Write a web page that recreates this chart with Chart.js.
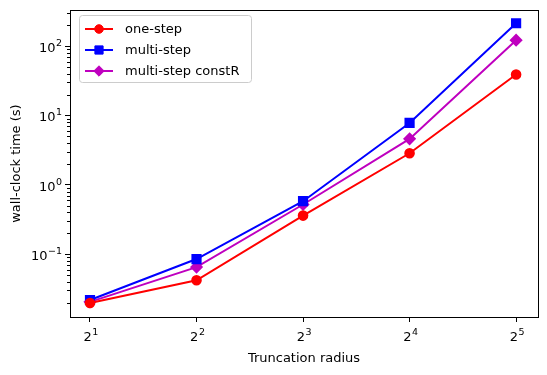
<!DOCTYPE html>
<html>
<head>
<meta charset="utf-8">
<script src="https://cdn.jsdelivr.net/npm/chart.js@4"></script>
<style>
  html, body { margin: 0; padding: 0; background: #fff; }
</style>
</head>
<body>
<canvas id="chart" width="547" height="375"></canvas>
<script>
// values
const radius = [2, 4, 8, 16, 32];
const oneStep = [0.0197, 0.042, 0.36, 2.85, 39];
const multiStep = [0.0218, 0.085, 0.58, 7.8, 214];
const multiStepConstR = [0.0205, 0.065, 0.52, 4.6, 122];
// tick labels as base + exponent
const xTickExp = ['1', '2', '3', '4', '5'];
const yMajor = [0.1, 1, 10, 100];
const yTickExp = ['\u22121', '0', '1', '2'];

const FONT = 'DejaVu Sans';
const Y_MIN = 0.0124, Y_MAX = 330;

function yTickList() {
    const list = yMajor.map(v => ({ value: v, major: true }));
    for (let k = -2; k <= 2; k++) {
        for (let m = 2; m <= 9; m++) {
            const v = m * Math.pow(10, k);
            if (v >= Y_MIN && v <= Y_MAX) list.push({ value: v, major: false });
        }
    }
    return list.sort((a, b) => a.value - b.value);
}

// base with a raised exponent, like matplotlib mathtext
function drawPower(ctx, base, exp, x, y, align) {
    ctx.font = '13px "' + FONT + '"';
    const wb = ctx.measureText(base).width;
    ctx.font = '9.5px "' + FONT + '"';
    const we = ctx.measureText(exp).width;
    const total = wb + we + 0.5;
    let x0 = align === 'right' ? x - total : x - total / 2;
    ctx.textAlign = 'left';
    ctx.textBaseline = 'alphabetic';
    ctx.font = '13px "' + FONT + '"';
    ctx.fillText(base, x0, y);
    ctx.font = '9.5px "' + FONT + '"';
    ctx.fillText(exp, x0 + wb + 0.5, y - 6);
}

// matplotlib-like frame, minor ticks, tick labels and legend inside the plot
const mplExtras = {
    id: 'mplExtras',
    afterDraw(chart) {
        const ctx = chart.ctx;
        const a = chart.chartArea;
        const x = chart.scales.x;
        const y = chart.scales.y;
        ctx.save();
        ctx.strokeStyle = '#000';
        ctx.lineWidth = 1;
        ctx.strokeRect(Math.round(a.left) + 0.5, Math.round(a.top) + 0.5,
            Math.round(a.right - a.left), Math.round(a.bottom - a.top));

        ctx.beginPath();
        y.ticks.forEach(t => {
            if (t.major) return;
            const py = Math.round(y.getPixelForValue(t.value)) + 0.5;
            ctx.moveTo(a.left, py);
            ctx.lineTo(a.left - 3, py);
        });
        ctx.stroke();

        ctx.fillStyle = '#000';
        radius.forEach((r, i) => {
            drawPower(ctx, '2', xTickExp[i], x.getPixelForValue(r) + 1, a.bottom + 24);
        });
        yMajor.forEach((v, i) => {
            drawPower(ctx, '10', yTickExp[i], a.left - 8, y.getPixelForValue(v) + 6, 'right');
        });

        // legend
        const bx = 79.5, by = 15.5, bw = 172, bh = 67;
        ctx.fillStyle = 'rgba(255,255,255,0.8)';
        ctx.strokeStyle = '#cccccc';
        ctx.beginPath();
        ctx.roundRect(bx, by, bw, bh, 3);
        ctx.fill();
        ctx.stroke();

        ctx.font = '13px "' + FONT + '"';
        ctx.textBaseline = 'middle';
        ctx.textAlign = 'left';
        chart.data.datasets.forEach((ds, i) => {
            const ry = 29 + i * 21;
            ctx.strokeStyle = ds.borderColor;
            ctx.lineWidth = 2;
            ctx.beginPath();
            ctx.moveTo(85, ry);
            ctx.lineTo(113, ry);
            ctx.stroke();
            ctx.fillStyle = ds.pointBackgroundColor;
            ctx.strokeStyle = ds.pointBorderColor;
            ctx.lineWidth = 1;
            Chart.helpers.drawPoint(ctx, { pointStyle: ds.pointStyle, radius: ds.pointRadius, borderWidth: 1 }, 99, ry);
            ctx.fillStyle = '#000';
            ctx.fillText(ds.label, 125, ry + 1);
        });
        ctx.restore();
    }
};

const chart = new Chart(document.querySelector('#chart'), {
    type: 'line',
    data: {
        datasets: [
            {
                label: 'one-step',
                data: radius.map((r, i) => ({ x: r, y: oneStep[i] })),
                borderColor: '#ff0000',
                borderWidth: 2,
                pointStyle: 'circle',
                pointRadius: 4.3,
                pointBackgroundColor: '#ff0000',
                pointBorderColor: '#ff0000',
            },
            {
                label: 'multi-step',
                data: radius.map((r, i) => ({ x: r, y: multiStep[i] })),
                borderColor: '#0000ff',
                borderWidth: 2,
                pointStyle: 'rect',
                pointRadius: 5.8,
                pointBackgroundColor: '#0000ff',
                pointBorderColor: '#0000ff',
            },
            {
                label: 'multi-step constR',
                data: radius.map((r, i) => ({ x: r, y: multiStepConstR[i] })),
                borderColor: '#bf00bf',
                borderWidth: 2,
                pointStyle: 'rectRot',
                pointRadius: 5.2,
                pointBackgroundColor: '#bf00bf',
                pointBorderColor: '#bf00bf',
            }
        ]
    },
    options: {
        responsive: false,
        animation: false,
        layout: { padding: { left: 0, right: 9, top: 10, bottom: 0 } },
        scales: {
            x: {
                type: 'logarithmic',
                min: 1.756,
                max: 36.9,
                afterBuildTicks: s => { s.ticks = radius.map(v => ({ value: v })); },
                afterFit: s => { s.height = 58; },
                grid: { drawOnChartArea: false, tickLength: 5, tickColor: '#000' },
                border: { display: true, color: '#000', width: 1 },
                ticks: {
                    autoSkip: false,
                    maxRotation: 0,
                    callback: () => ''
                },
                title: {
                    display: true,
                    text: 'Truncation radius',
                    color: '#000',
                    font: { family: FONT, size: 13 },
                    padding: { top: 0, bottom: 9 }
                }
            },
            y: {
                type: 'logarithmic',
                min: Y_MIN,
                max: Y_MAX,
                afterBuildTicks: s => { s.ticks = yTickList(); },
                afterFit: s => { s.width = 70; },
                grid: {
                    drawOnChartArea: false,
                    tickLength: 5,
                    tickColor: c => (c.tick && c.tick.major) ? '#000' : 'rgba(0,0,0,0)'
                },
                border: { display: true, color: '#000', width: 1 },
                ticks: {
                    autoSkip: false,
                    callback: () => ''
                },
                title: {
                    display: true,
                    text: 'wall-clock time (s)',
                    color: '#000',
                    font: { family: FONT, size: 13 },
                    padding: { top: 9, bottom: 0 }
                }
            }
        },
        plugins: {
            legend: { display: false },
            tooltip: { enabled: false }
        }
    },
    plugins: [mplExtras]
});
</script>
</body>
</html>
